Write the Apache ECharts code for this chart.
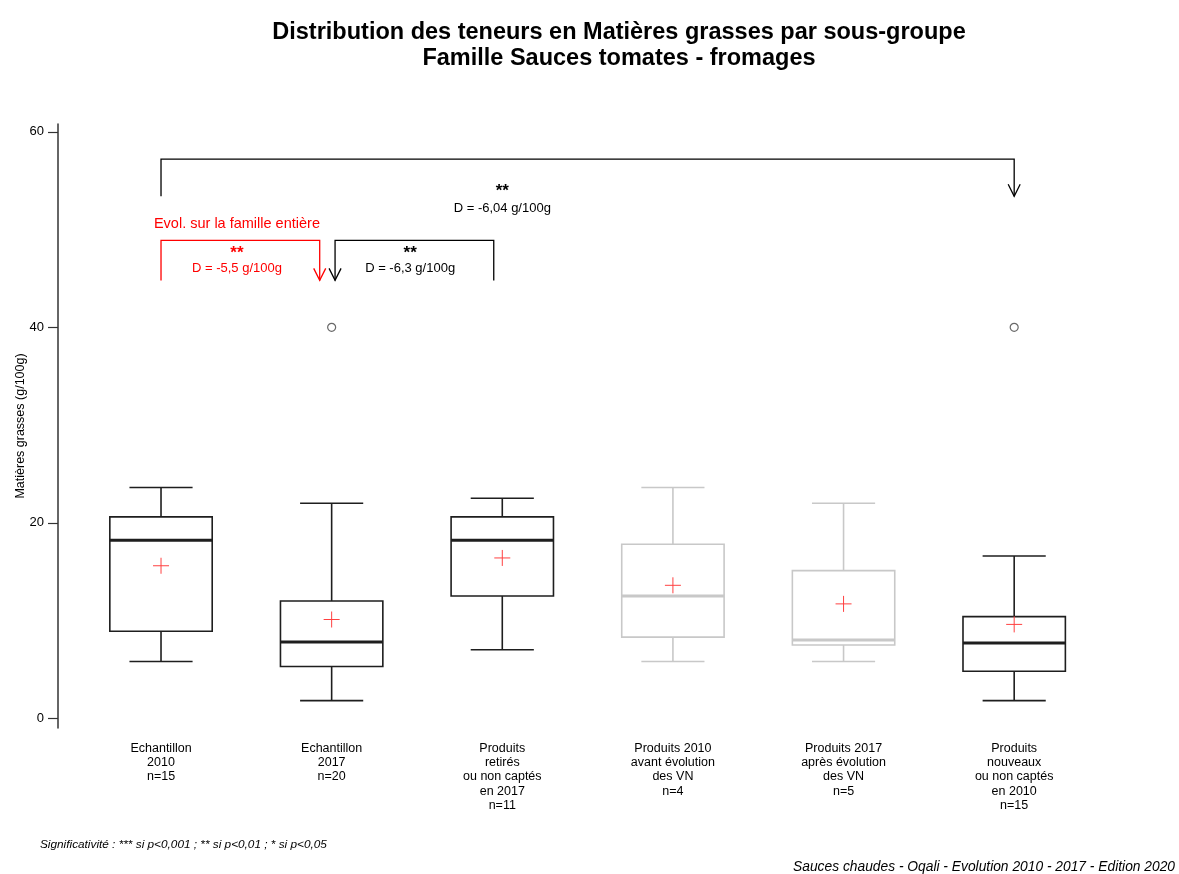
<!DOCTYPE html>
<html>
<head>
<meta charset="utf-8">
<script src="https://cdn.jsdelivr.net/npm/echarts@6/dist/echarts.min.js"></script>
<style>
  html, body { margin: 0; padding: 0; background: #fff; }
  #main { width: 1179px; height: 874px; }
</style>
</head>
<body>
<div id="main"></div>
<script>
// categories (sous-groupes)
var categories = [
    'Echantillon\n2010\nn=15',
    'Echantillon\n2017\nn=20',
    'Produits\nretirés\nou non captés\nen 2017\nn=11',
    'Produits 2010\navant évolution\ndes VN\nn=4',
    'Produits 2017\naprès évolution\ndes VN\nn=5',
    'Produits\nnouveaux\nou non captés\nen 2010\nn=15'
];
// box stats, g/100g
var whiskerLow = [5.8, 1.8, 7.0, 5.8, 5.8, 1.8];
var q1 = [8.9, 5.3, 12.5, 8.3, 7.5, 4.8];
var median = [18.2, 7.8, 18.2, 12.5, 8.0, 7.7];
var q3 = [20.6, 12.0, 20.6, 17.8, 15.1, 10.4];
var whiskerHigh = [23.6, 22.0, 22.5, 23.6, 22.0, 16.6];
var means = [15.6, 10.1, 16.4, 13.6, 11.7, 9.6];
var greyBox = [false, false, false, true, true, false];
// outliers [category index, value]
var outliers = [[1, 40], [5, 40]];
var yTicks = [0, 20, 40, 60];

// comparison brackets (x in category units from first box)
var bracketFrom = [0, 0, 1.95];
var bracketTo = [5, 0.93, 1.02];
var bracketTop = [57.2, 48.9, 48.9];
var bracketBottom = [53.4, 44.8, 44.8];
var bracketArrowFrom = [0, 0, 0];
var bracketArrowTo = [1, 1, 1];
var bracketColor = ['#000000', '#ff0000', '#000000'];

// annotation texts
var noteText = ['**', 'D = -6,04 g/100g', 'Evol. sur la famille entière', '**', 'D = -5,5 g/100g', '**', 'D = -6,3 g/100g'];
var noteX = [2, 2, 0.445, 0.445, 0.445, 1.46, 1.46];
var noteY = [53.9, 52.15, 50.6, 47.6, 46.0, 47.6, 46.0];
var noteColor = ['#000', '#000', '#ff0000', '#ff0000', '#ff0000', '#000', '#000'];
var noteFont = ['bold 17px ', '13px ', '14.5px ', 'bold 17px ', '13px ', 'bold 17px ', '13px '];

var FONT = 'Liberation Sans, Arial, sans-serif';

var boxData = [];
for (var i = 0; i < categories.length; i++) {
    boxData.push([i, whiskerLow[i], q1[i], median[i], q3[i], whiskerHigh[i], means[i]]);
}
var bracketData = [];
for (var b = 0; b < bracketFrom.length; b++) {
    bracketData.push([0, bracketTop[b], bracketFrom[b], bracketTo[b], bracketBottom[b], b]);
}
var noteData = [];
for (var n = 0; n < noteText.length; n++) {
    noteData.push([0, noteY[n], noteX[n], n]);
}

function renderBox(params, api) {
    var i = api.value(0);
    var band = api.size([1, 0])[0];
    var x = api.coord([i, 0])[0];
    var yLow = api.coord([i, api.value(1)])[1];
    var yQ1 = api.coord([i, api.value(2)])[1];
    var yMed = api.coord([i, api.value(3)])[1];
    var yQ3 = api.coord([i, api.value(4)])[1];
    var yHigh = api.coord([i, api.value(5)])[1];
    var yMean = api.coord([i, api.value(6)])[1];
    var half = band * 0.3;
    var cap = band * 0.185;
    var col = greyBox[i] ? '#c8c8c8' : '#1e1e1e';
    var st = { stroke: col, lineWidth: 1.6, fill: null };
    return {
        type: 'group',
        children: [
            { type: 'line', shape: { x1: x, y1: yHigh, x2: x, y2: yQ3 }, style: st },
            { type: 'line', shape: { x1: x, y1: yLow, x2: x, y2: yQ1 }, style: st },
            { type: 'line', shape: { x1: x - cap, y1: yHigh, x2: x + cap, y2: yHigh }, style: st },
            { type: 'line', shape: { x1: x - cap, y1: yLow, x2: x + cap, y2: yLow }, style: st },
            { type: 'rect', shape: { x: x - half, y: yQ3, width: half * 2, height: yQ1 - yQ3 }, style: { stroke: col, lineWidth: 1.6, fill: '#fff' } },
            { type: 'line', shape: { x1: x - half, y1: yMed, x2: x + half, y2: yMed }, style: { stroke: col, lineWidth: 3 } },
            { type: 'line', shape: { x1: x - 8, y1: yMean, x2: x + 8, y2: yMean }, style: { stroke: '#ff4040', lineWidth: 1 } },
            { type: 'line', shape: { x1: x, y1: yMean - 8, x2: x, y2: yMean + 8 }, style: { stroke: '#ff4040', lineWidth: 1 } }
        ]
    };
}

function renderBracket(params, api) {
    var band = api.size([1, 0])[0];
    var x0 = api.coord([0, 0])[0];
    var yTop = api.coord([0, api.value(1)])[1];
    var yBot = api.coord([0, api.value(4)])[1];
    var b = api.value(5);
    var xa = x0 + api.value(2) * band;
    var xb = x0 + api.value(3) * band;
    var st = { stroke: bracketColor[b], lineWidth: 1.3, fill: null };
    var kids = [
        { type: 'polyline', shape: { points: [[xa, yBot], [xa, yTop], [xb, yTop], [xb, yBot]] }, style: st }
    ];
    if (bracketArrowFrom[b]) {
        kids.push({ type: 'polyline', shape: { points: [[xa - 6, yBot - 12], [xa, yBot], [xa + 6, yBot - 12]] }, style: st });
    }
    if (bracketArrowTo[b]) {
        kids.push({ type: 'polyline', shape: { points: [[xb - 6, yBot - 12], [xb, yBot], [xb + 6, yBot - 12]] }, style: st });
    }
    return { type: 'group', children: kids };
}

function renderNote(params, api) {
    var band = api.size([1, 0])[0];
    var x0 = api.coord([0, 0])[0];
    var y = api.coord([0, api.value(1)])[1];
    var k = api.value(3);
    return {
        type: 'text',
        x: x0 + api.value(2) * band,
        y: y,
        style: {
            text: noteText[k],
            fill: noteColor[k],
            font: noteFont[k] + FONT,
            align: 'center',
            verticalAlign: 'middle'
        }
    };
}

var chart = echarts.init(document.getElementById('main'));
var option = {
    backgroundColor: '#ffffff',
    animation: false,
    title: {
        text: 'Distribution des teneurs en Matières grasses par sous-groupe\nFamille Sauces tomates - fromages',
        left: 614,
        top: 15,
        textAlign: 'center',
        textStyle: { fontFamily: FONT, fontSize: 23.5, fontWeight: 'bold', color: '#000', lineHeight: 26 }
    },
    grid: { left: 75.7, right: 79.5, top: 124, bottom: 146, outerBoundsMode: 'none', containLabel: false },
    xAxis: {
        type: 'category',
        data: categories,
        boundaryGap: true,
        axisLine: { show: false },
        axisTick: { show: false },
        splitLine: { show: false },
        axisLabel: { interval: 0, margin: 13, color: '#000', fontFamily: FONT, fontSize: 12.5, lineHeight: 14.3 }
    },
    yAxis: {
        type: 'value',
        min: -1,
        max: 60.8,
        offset: 17.7,
        name: 'Matières grasses (g/100g)',
        nameLocation: 'middle',
        nameGap: 31,
        nameMoveOverlap: false,
        nameTextStyle: { fontFamily: FONT, fontSize: 12.5, color: '#000' },
        axisLine: { show: true, lineStyle: { color: '#333', width: 1.5 } },
        axisTick: { show: true, length: 10, customValues: yTicks, lineStyle: { color: '#333', width: 1.2 } },
        axisLabel: { customValues: yTicks, margin: 14, color: '#000', fontFamily: FONT, fontSize: 13 },
        splitLine: { show: false }
    },
    series: [
        {
            type: 'custom',
            name: 'boites',
            renderItem: renderBox,
            encode: { x: 0, y: [1, 2, 3, 4, 5] },
            data: boxData,
            z: 2
        },
        {
            type: 'scatter',
            name: 'atypiques',
            data: outliers,
            symbol: 'circle',
            symbolSize: 8,
            itemStyle: { color: '#fff', borderColor: '#444', borderWidth: 1.2 },
            z: 3
        },
        {
            type: 'custom',
            name: 'comparaisons',
            renderItem: renderBracket,
            encode: { x: 0, y: 1 },
            data: bracketData,
            clip: false,
            z: 4
        },
        {
            type: 'custom',
            name: 'notes',
            renderItem: renderNote,
            encode: { x: 0, y: 1 },
            data: noteData,
            clip: false,
            z: 5
        }
    ],
    graphic: [
        {
            type: 'text', left: 40, top: 839,
            style: { text: 'Significativité : *** si p<0,001 ; ** si p<0,01 ; * si p<0,05', font: 'italic 11.8px ' + FONT, fill: '#000' }
        },
        {
            type: 'text', right: 4, top: 860,
            style: { text: 'Sauces chaudes - Oqali - Evolution 2010 - 2017 - Edition 2020', font: 'italic 13.8px ' + FONT, fill: '#000' }
        }
    ]
};
chart.setOption(option);
</script>
</body>
</html>
